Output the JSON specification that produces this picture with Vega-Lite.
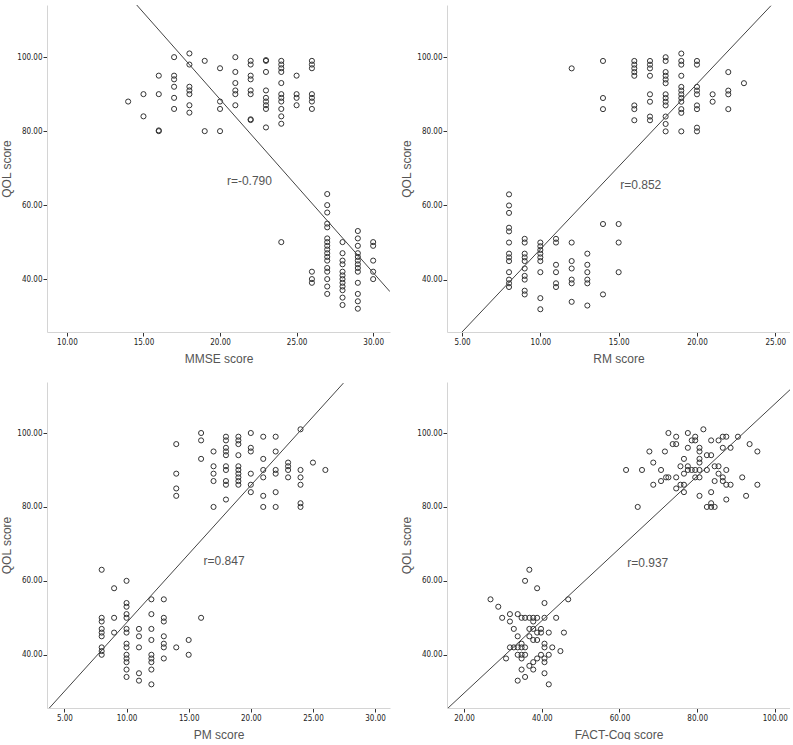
{
  "$schema": "https://vega.github.io/schema/vega-lite/v6.json",
  "padding": {"left": 0, "top": 5, "right": 0, "bottom": 0},
  "background": "white",
  "config": {
    "view": {"stroke": null},
    "axis": {
      "grid": false,
      "domainColor": "#d4d4d4",
      "domainWidth": 1,
      "tickColor": "#333333",
      "tickSize": 4,
      "labelFont": "DejaVu Sans Condensed, Liberation Sans, sans-serif",
      "labelFontSize": 8,
      "labelColor": "#222222",
      "labelPadding": 1,
      "titleFont": "Liberation Sans",
      "titleFontSize": 12,
      "titleFontWeight": "normal",
      "titleColor": "#555555",
      "titlePadding": 3,
      "format": ".2f"
    },
    "axisX": {"labelPadding": 2, "titlePadding": 7}
  },
  "datasets": {
    "pts": [
      {"p":"MMSE","x":14,"y":88},
      {"p":"MMSE","x":15,"y":90},{"p":"MMSE","x":15,"y":84},
      {"p":"MMSE","x":16,"y":95},{"p":"MMSE","x":16,"y":90},{"p":"MMSE","x":16,"y":80},{"p":"MMSE","x":16,"y":80.2},
      {"p":"MMSE","x":17,"y":100},{"p":"MMSE","x":17,"y":95},{"p":"MMSE","x":17,"y":94},{"p":"MMSE","x":17,"y":92},{"p":"MMSE","x":17,"y":89},{"p":"MMSE","x":17,"y":86},
      {"p":"MMSE","x":18,"y":101},{"p":"MMSE","x":18,"y":98},{"p":"MMSE","x":18,"y":92},{"p":"MMSE","x":18,"y":91},{"p":"MMSE","x":18,"y":90},{"p":"MMSE","x":18,"y":87},{"p":"MMSE","x":18,"y":85},
      {"p":"MMSE","x":19,"y":99},{"p":"MMSE","x":19,"y":80},
      {"p":"MMSE","x":20,"y":97},{"p":"MMSE","x":20,"y":88},{"p":"MMSE","x":20,"y":86},{"p":"MMSE","x":20,"y":80},
      {"p":"MMSE","x":21,"y":100},{"p":"MMSE","x":21,"y":96},{"p":"MMSE","x":21,"y":93},{"p":"MMSE","x":21,"y":91},{"p":"MMSE","x":21,"y":90},{"p":"MMSE","x":21,"y":87},
      {"p":"MMSE","x":22,"y":99},{"p":"MMSE","x":22,"y":98},{"p":"MMSE","x":22,"y":95},{"p":"MMSE","x":22,"y":94},{"p":"MMSE","x":22,"y":91},{"p":"MMSE","x":22,"y":90},{"p":"MMSE","x":22,"y":83},{"p":"MMSE","x":22,"y":83.2},
      {"p":"MMSE","x":23,"y":99},{"p":"MMSE","x":23,"y":99.2},{"p":"MMSE","x":23,"y":96},{"p":"MMSE","x":23,"y":91},{"p":"MMSE","x":23,"y":89},{"p":"MMSE","x":23,"y":88},{"p":"MMSE","x":23,"y":87},{"p":"MMSE","x":23,"y":86},{"p":"MMSE","x":23,"y":81},
      {"p":"MMSE","x":24,"y":99},{"p":"MMSE","x":24,"y":98},{"p":"MMSE","x":24,"y":97},{"p":"MMSE","x":24,"y":96},{"p":"MMSE","x":24,"y":93},{"p":"MMSE","x":24,"y":90},{"p":"MMSE","x":24,"y":89},{"p":"MMSE","x":24,"y":88},{"p":"MMSE","x":24,"y":86},{"p":"MMSE","x":24,"y":84},{"p":"MMSE","x":24,"y":82},{"p":"MMSE","x":24,"y":50},
      {"p":"MMSE","x":25,"y":95},{"p":"MMSE","x":25,"y":90},{"p":"MMSE","x":25,"y":89},{"p":"MMSE","x":25,"y":87},
      {"p":"MMSE","x":26,"y":99},{"p":"MMSE","x":26,"y":98},{"p":"MMSE","x":26,"y":97},{"p":"MMSE","x":26,"y":90},{"p":"MMSE","x":26,"y":89},{"p":"MMSE","x":26,"y":88},{"p":"MMSE","x":26,"y":86},{"p":"MMSE","x":26,"y":42},{"p":"MMSE","x":26,"y":40},{"p":"MMSE","x":26,"y":39},
      {"p":"MMSE","x":27,"y":63},{"p":"MMSE","x":27,"y":60},{"p":"MMSE","x":27,"y":58},{"p":"MMSE","x":27,"y":55},{"p":"MMSE","x":27,"y":54},{"p":"MMSE","x":27,"y":51},{"p":"MMSE","x":27,"y":50},{"p":"MMSE","x":27,"y":49},{"p":"MMSE","x":27,"y":48},{"p":"MMSE","x":27,"y":47},{"p":"MMSE","x":27,"y":46},{"p":"MMSE","x":27,"y":45},{"p":"MMSE","x":27,"y":43},{"p":"MMSE","x":27,"y":42},{"p":"MMSE","x":27,"y":40},{"p":"MMSE","x":27,"y":38},{"p":"MMSE","x":27,"y":36},
      {"p":"MMSE","x":28,"y":50},{"p":"MMSE","x":28,"y":47},{"p":"MMSE","x":28,"y":45},{"p":"MMSE","x":28,"y":44},{"p":"MMSE","x":28,"y":42},{"p":"MMSE","x":28,"y":41},{"p":"MMSE","x":28,"y":40},{"p":"MMSE","x":28,"y":39},{"p":"MMSE","x":28,"y":38},{"p":"MMSE","x":28,"y":37},{"p":"MMSE","x":28,"y":35},{"p":"MMSE","x":28,"y":33},
      {"p":"MMSE","x":29,"y":53},{"p":"MMSE","x":29,"y":51},{"p":"MMSE","x":29,"y":49},{"p":"MMSE","x":29,"y":47},{"p":"MMSE","x":29,"y":46},{"p":"MMSE","x":29,"y":45},{"p":"MMSE","x":29,"y":44},{"p":"MMSE","x":29,"y":43},{"p":"MMSE","x":29,"y":42},{"p":"MMSE","x":29,"y":39},{"p":"MMSE","x":29,"y":36},{"p":"MMSE","x":29,"y":34},{"p":"MMSE","x":29,"y":32},
      {"p":"MMSE","x":30,"y":50},{"p":"MMSE","x":30,"y":49},{"p":"MMSE","x":30,"y":45},{"p":"MMSE","x":30,"y":42},{"p":"MMSE","x":30,"y":40},

      {"p":"RM","x":8,"y":63},{"p":"RM","x":8,"y":60},{"p":"RM","x":8,"y":58},{"p":"RM","x":8,"y":54},{"p":"RM","x":8,"y":53},{"p":"RM","x":8,"y":50},{"p":"RM","x":8,"y":47},{"p":"RM","x":8,"y":46},{"p":"RM","x":8,"y":45},{"p":"RM","x":8,"y":42},{"p":"RM","x":8,"y":40},{"p":"RM","x":8,"y":39},{"p":"RM","x":8,"y":38},
      {"p":"RM","x":9,"y":51},{"p":"RM","x":9,"y":50},{"p":"RM","x":9,"y":47},{"p":"RM","x":9,"y":46},{"p":"RM","x":9,"y":45},{"p":"RM","x":9,"y":43},{"p":"RM","x":9,"y":41},{"p":"RM","x":9,"y":40},{"p":"RM","x":9,"y":37},{"p":"RM","x":9,"y":36},
      {"p":"RM","x":10,"y":50},{"p":"RM","x":10,"y":49},{"p":"RM","x":10,"y":48},{"p":"RM","x":10,"y":47},{"p":"RM","x":10,"y":46},{"p":"RM","x":10,"y":45},{"p":"RM","x":10,"y":42},{"p":"RM","x":10,"y":35},{"p":"RM","x":10,"y":32},
      {"p":"RM","x":11,"y":51},{"p":"RM","x":11,"y":50},{"p":"RM","x":11,"y":44},{"p":"RM","x":11,"y":42},{"p":"RM","x":11,"y":39},{"p":"RM","x":11,"y":38},
      {"p":"RM","x":12,"y":97},{"p":"RM","x":12,"y":50},{"p":"RM","x":12,"y":45},{"p":"RM","x":12,"y":43},{"p":"RM","x":12,"y":40},{"p":"RM","x":12,"y":39},{"p":"RM","x":12,"y":34},
      {"p":"RM","x":13,"y":47},{"p":"RM","x":13,"y":44},{"p":"RM","x":13,"y":42},{"p":"RM","x":13,"y":40},{"p":"RM","x":13,"y":39},{"p":"RM","x":13,"y":33},
      {"p":"RM","x":14,"y":99},{"p":"RM","x":14,"y":89},{"p":"RM","x":14,"y":86},{"p":"RM","x":14,"y":55},{"p":"RM","x":14,"y":36},
      {"p":"RM","x":15,"y":55},{"p":"RM","x":15,"y":50},{"p":"RM","x":15,"y":42},
      {"p":"RM","x":16,"y":99},{"p":"RM","x":16,"y":98},{"p":"RM","x":16,"y":97},{"p":"RM","x":16,"y":96},{"p":"RM","x":16,"y":95},{"p":"RM","x":16,"y":87},{"p":"RM","x":16,"y":86},{"p":"RM","x":16,"y":83},
      {"p":"RM","x":17,"y":99},{"p":"RM","x":17,"y":98},{"p":"RM","x":17,"y":97},{"p":"RM","x":17,"y":95},{"p":"RM","x":17,"y":90},{"p":"RM","x":17,"y":88},{"p":"RM","x":17,"y":84},{"p":"RM","x":17,"y":83},
      {"p":"RM","x":18,"y":100},{"p":"RM","x":18,"y":99},{"p":"RM","x":18,"y":96},{"p":"RM","x":18,"y":95},{"p":"RM","x":18,"y":94},{"p":"RM","x":18,"y":93},{"p":"RM","x":18,"y":90},{"p":"RM","x":18,"y":89},{"p":"RM","x":18,"y":88},{"p":"RM","x":18,"y":87},{"p":"RM","x":18,"y":84},{"p":"RM","x":18,"y":82},{"p":"RM","x":18,"y":80},
      {"p":"RM","x":19,"y":101},{"p":"RM","x":19,"y":99},{"p":"RM","x":19,"y":98},{"p":"RM","x":19,"y":95},{"p":"RM","x":19,"y":92},{"p":"RM","x":19,"y":91},{"p":"RM","x":19,"y":90},{"p":"RM","x":19,"y":89},{"p":"RM","x":19,"y":88},{"p":"RM","x":19,"y":86},{"p":"RM","x":19,"y":85},{"p":"RM","x":19,"y":80},
      {"p":"RM","x":20,"y":99},{"p":"RM","x":20,"y":98},{"p":"RM","x":20,"y":92},{"p":"RM","x":20,"y":91},{"p":"RM","x":20,"y":90},{"p":"RM","x":20,"y":87},{"p":"RM","x":20,"y":86},{"p":"RM","x":20,"y":81},{"p":"RM","x":20,"y":80},
      {"p":"RM","x":21,"y":90},{"p":"RM","x":21,"y":88},
      {"p":"RM","x":22,"y":96},{"p":"RM","x":22,"y":91},{"p":"RM","x":22,"y":90},{"p":"RM","x":22,"y":86},
      {"p":"RM","x":23,"y":93},

      {"p":"PM","x":8,"y":63},{"p":"PM","x":8,"y":50},{"p":"PM","x":8,"y":49},{"p":"PM","x":8,"y":47},{"p":"PM","x":8,"y":46},{"p":"PM","x":8,"y":45},{"p":"PM","x":8,"y":42},{"p":"PM","x":8,"y":41},{"p":"PM","x":8,"y":40},
      {"p":"PM","x":9,"y":58},{"p":"PM","x":9,"y":50},{"p":"PM","x":9,"y":46},
      {"p":"PM","x":10,"y":60},{"p":"PM","x":10,"y":54},{"p":"PM","x":10,"y":53},{"p":"PM","x":10,"y":51},{"p":"PM","x":10,"y":50},{"p":"PM","x":10,"y":47},{"p":"PM","x":10,"y":46},{"p":"PM","x":10,"y":43},{"p":"PM","x":10,"y":42},{"p":"PM","x":10,"y":40},{"p":"PM","x":10,"y":39},{"p":"PM","x":10,"y":38},{"p":"PM","x":10,"y":36},{"p":"PM","x":10,"y":34},
      {"p":"PM","x":11,"y":47},{"p":"PM","x":11,"y":45},{"p":"PM","x":11,"y":42},{"p":"PM","x":11,"y":35},{"p":"PM","x":11,"y":33},
      {"p":"PM","x":12,"y":55},{"p":"PM","x":12,"y":51},{"p":"PM","x":12,"y":47},{"p":"PM","x":12,"y":44},{"p":"PM","x":12,"y":40},{"p":"PM","x":12,"y":39},{"p":"PM","x":12,"y":38},{"p":"PM","x":12,"y":36},{"p":"PM","x":12,"y":32},
      {"p":"PM","x":13,"y":55},{"p":"PM","x":13,"y":50},{"p":"PM","x":13,"y":49},{"p":"PM","x":13,"y":45},{"p":"PM","x":13,"y":43},{"p":"PM","x":13,"y":42},{"p":"PM","x":13,"y":39},
      {"p":"PM","x":14,"y":97},{"p":"PM","x":14,"y":89},{"p":"PM","x":14,"y":85},{"p":"PM","x":14,"y":83},{"p":"PM","x":14,"y":42},
      {"p":"PM","x":15,"y":44},{"p":"PM","x":15,"y":40},
      {"p":"PM","x":16,"y":100},{"p":"PM","x":16,"y":98},{"p":"PM","x":16,"y":93},{"p":"PM","x":16,"y":50},
      {"p":"PM","x":17,"y":95},{"p":"PM","x":17,"y":91},{"p":"PM","x":17,"y":89},{"p":"PM","x":17,"y":87},{"p":"PM","x":17,"y":80},
      {"p":"PM","x":18,"y":99},{"p":"PM","x":18,"y":98},{"p":"PM","x":18,"y":96},{"p":"PM","x":18,"y":95},{"p":"PM","x":18,"y":94},{"p":"PM","x":18,"y":91},{"p":"PM","x":18,"y":90},{"p":"PM","x":18,"y":87},{"p":"PM","x":18,"y":86},{"p":"PM","x":18,"y":82},
      {"p":"PM","x":19,"y":99},{"p":"PM","x":19,"y":98},{"p":"PM","x":19,"y":97},{"p":"PM","x":19,"y":94},{"p":"PM","x":19,"y":91},{"p":"PM","x":19,"y":90},{"p":"PM","x":19,"y":89},{"p":"PM","x":19,"y":88},{"p":"PM","x":19,"y":87},{"p":"PM","x":19,"y":86},
      {"p":"PM","x":20,"y":100},{"p":"PM","x":20,"y":96},{"p":"PM","x":20,"y":95},{"p":"PM","x":20,"y":89},{"p":"PM","x":20,"y":86},{"p":"PM","x":20,"y":84},
      {"p":"PM","x":21,"y":99},{"p":"PM","x":21,"y":93},{"p":"PM","x":21,"y":90},{"p":"PM","x":21,"y":88},{"p":"PM","x":21,"y":83},{"p":"PM","x":21,"y":80},
      {"p":"PM","x":22,"y":99},{"p":"PM","x":22,"y":95},{"p":"PM","x":22,"y":90},{"p":"PM","x":22,"y":89},{"p":"PM","x":22,"y":84},{"p":"PM","x":22,"y":80},
      {"p":"PM","x":23,"y":92},{"p":"PM","x":23,"y":91},{"p":"PM","x":23,"y":90},{"p":"PM","x":23,"y":88},
      {"p":"PM","x":24,"y":101},{"p":"PM","x":24,"y":90},{"p":"PM","x":24,"y":88},{"p":"PM","x":24,"y":86},{"p":"PM","x":24,"y":81},{"p":"PM","x":24,"y":80},
      {"p":"PM","x":25,"y":92},
      {"p":"PM","x":26,"y":90},

      {"p":"FACT","x":61.7,"y":90},{"p":"FACT","x":65.8,"y":90},{"p":"FACT","x":64.7,"y":80},{"p":"FACT","x":67.7,"y":95},{"p":"FACT","x":68.7,"y":92},{"p":"FACT","x":68.7,"y":86},{"p":"FACT","x":70.7,"y":90},{"p":"FACT","x":70.7,"y":87},{"p":"FACT","x":71.7,"y":95},{"p":"FACT","x":72,"y":88},{"p":"FACT","x":72.6,"y":88},{"p":"FACT","x":72.6,"y":100},{"p":"FACT","x":73.7,"y":97},{"p":"FACT","x":74.6,"y":97},{"p":"FACT","x":74.6,"y":99},{"p":"FACT","x":74.6,"y":88},{"p":"FACT","x":74.6,"y":85},{"p":"FACT","x":75.7,"y":91},{"p":"FACT","x":75.7,"y":86},{"p":"FACT","x":76.6,"y":93},{"p":"FACT","x":76.6,"y":89},{"p":"FACT","x":76.6,"y":86},{"p":"FACT","x":76.6,"y":84},{"p":"FACT","x":77.6,"y":100},{"p":"FACT","x":77.6,"y":96},{"p":"FACT","x":77.6,"y":91},{"p":"FACT","x":77.6,"y":90},{"p":"FACT","x":78.6,"y":98},{"p":"FACT","x":78.6,"y":90},{"p":"FACT","x":79.5,"y":99},{"p":"FACT","x":79.5,"y":98},{"p":"FACT","x":79.5,"y":90},{"p":"FACT","x":79.5,"y":88},{"p":"FACT","x":80.6,"y":96},{"p":"FACT","x":80.6,"y":95},{"p":"FACT","x":80.6,"y":93},{"p":"FACT","x":80.6,"y":92},{"p":"FACT","x":80.6,"y":90},{"p":"FACT","x":80.6,"y":88},{"p":"FACT","x":80.6,"y":83},{"p":"FACT","x":81.6,"y":101},{"p":"FACT","x":82.5,"y":94},{"p":"FACT","x":82.5,"y":90},{"p":"FACT","x":82.5,"y":80},{"p":"FACT","x":83.6,"y":98},{"p":"FACT","x":83.6,"y":94},{"p":"FACT","x":83.6,"y":84},{"p":"FACT","x":83.6,"y":81},{"p":"FACT","x":83.6,"y":80},{"p":"FACT","x":84.5,"y":91},{"p":"FACT","x":84.5,"y":87},{"p":"FACT","x":84.5,"y":80},{"p":"FACT","x":85.5,"y":98},{"p":"FACT","x":85.5,"y":91},{"p":"FACT","x":85.5,"y":89},{"p":"FACT","x":86.6,"y":99},{"p":"FACT","x":86.6,"y":96},{"p":"FACT","x":86.6,"y":88},{"p":"FACT","x":86.6,"y":87},{"p":"FACT","x":87.5,"y":99},{"p":"FACT","x":87.5,"y":90},{"p":"FACT","x":87.5,"y":86},{"p":"FACT","x":87.5,"y":82},{"p":"FACT","x":88.6,"y":96},{"p":"FACT","x":88.6,"y":86},{"p":"FACT","x":90.5,"y":99},{"p":"FACT","x":91.6,"y":88},{"p":"FACT","x":92.6,"y":83},{"p":"FACT","x":93.5,"y":97},{"p":"FACT","x":95.5,"y":95},{"p":"FACT","x":95.5,"y":86},
      {"p":"FACT","x":26.8,"y":55},{"p":"FACT","x":28.8,"y":53},{"p":"FACT","x":29.8,"y":50},{"p":"FACT","x":30.8,"y":39},{"p":"FACT","x":31.8,"y":51},{"p":"FACT","x":31.8,"y":49},{"p":"FACT","x":31.8,"y":42},{"p":"FACT","x":32.8,"y":47},{"p":"FACT","x":32.8,"y":42},{"p":"FACT","x":33.8,"y":51},{"p":"FACT","x":33.8,"y":45},{"p":"FACT","x":33.8,"y":42},{"p":"FACT","x":33.8,"y":33},{"p":"FACT","x":33.8,"y":40},{"p":"FACT","x":34.8,"y":50},{"p":"FACT","x":34.8,"y":43},{"p":"FACT","x":34.8,"y":42},{"p":"FACT","x":34.8,"y":40},{"p":"FACT","x":34.8,"y":39},{"p":"FACT","x":34.8,"y":36},{"p":"FACT","x":35.7,"y":50},{"p":"FACT","x":35.7,"y":42},{"p":"FACT","x":35.7,"y":40},{"p":"FACT","x":35.7,"y":34},{"p":"FACT","x":35.7,"y":60},{"p":"FACT","x":36.8,"y":63},{"p":"FACT","x":36.8,"y":50},{"p":"FACT","x":36.8,"y":47},{"p":"FACT","x":36.8,"y":45},{"p":"FACT","x":36.8,"y":37},{"p":"FACT","x":37.8,"y":50},{"p":"FACT","x":37.8,"y":49},{"p":"FACT","x":37.8,"y":47},{"p":"FACT","x":37.8,"y":44},{"p":"FACT","x":37.8,"y":38},{"p":"FACT","x":37.8,"y":36},{"p":"FACT","x":38.8,"y":58},{"p":"FACT","x":38.8,"y":50},{"p":"FACT","x":38.8,"y":46},{"p":"FACT","x":38.8,"y":44},{"p":"FACT","x":38.8,"y":39},{"p":"FACT","x":39.8,"y":47},{"p":"FACT","x":39.8,"y":46},{"p":"FACT","x":39.8,"y":40},{"p":"FACT","x":40.7,"y":54},{"p":"FACT","x":40.7,"y":50},{"p":"FACT","x":40.7,"y":43},{"p":"FACT","x":40.7,"y":42},{"p":"FACT","x":40.7,"y":39},{"p":"FACT","x":40.7,"y":38},{"p":"FACT","x":40.7,"y":35},{"p":"FACT","x":41.8,"y":46},{"p":"FACT","x":41.8,"y":40},{"p":"FACT","x":41.8,"y":32},{"p":"FACT","x":42.7,"y":42},{"p":"FACT","x":43.7,"y":50},{"p":"FACT","x":44.8,"y":41},{"p":"FACT","x":45.7,"y":46},{"p":"FACT","x":46.8,"y":55}
    ],
    "fit": [
      {"p":"MMSE","x":14.56,"y":114.1},{"p":"MMSE","x":31.1,"y":36.6},
      {"p":"RM","x":5.0,"y":25.86},{"p":"RM","x":24.72,"y":113.9},
      {"p":"PM","x":3.79,"y":25.6},{"p":"PM","x":27.45,"y":113.5},
      {"p":"FACT","x":15.87,"y":25.6},{"p":"FACT","x":103.9,"y":111.7}
    ],
    "lab": [
      {"p":"MMSE","x":20.45,"y":66.6,"t":"r=-0.790"},
      {"p":"RM","x":15.1,"y":65.5,"t":"r=0.852"},
      {"p":"PM","x":16.2,"y":65.5,"t":"r=0.847"},
      {"p":"FACT","x":62.0,"y":64.7,"t":"r=0.937"}
    ]
  },
  "spacing": {"row": 50, "column": 57},
  "columns": 2,
  "bounds": "flush",
  "concat": [
    {
      "width": 343, "height": 327,
      "layer": [
        {"data": {"name": "pts"}, "transform": [{"filter": "datum.p === 'MMSE'"}],
         "mark": {"type": "point", "shape": "circle", "filled": false, "stroke": "#333333", "strokeWidth": 1, "size": 26, "opacity": 1},
         "encoding": {
           "x": {"field": "x", "type": "quantitative", "title": "MMSE score", "scale": {"domain": [8.7, 31.1], "nice": false, "zero": false}, "axis": {"values": [10, 15, 20, 25, 30]}},
           "y": {"field": "y", "type": "quantitative", "title": "QOL score", "scale": {"domain": [25.7, 114.1], "nice": false, "zero": false}, "axis": {"values": [40, 60, 80, 100]}}
         }},
        {"data": {"name": "fit"}, "transform": [{"filter": "datum.p === 'MMSE'"}],
         "mark": {"type": "line", "color": "#444444", "strokeWidth": 1, "clip": true},
         "encoding": {"x": {"field": "x", "type": "quantitative"}, "y": {"field": "y", "type": "quantitative"}}},
        {"data": {"name": "lab"}, "transform": [{"filter": "datum.p === 'MMSE'"}],
         "mark": {"type": "text", "align": "left", "baseline": "middle", "font": "Liberation Sans", "fontSize": 12, "color": "#555555"},
         "encoding": {"x": {"field": "x", "type": "quantitative"}, "y": {"field": "y", "type": "quantitative"}, "text": {"field": "t"}}}
      ]
    },
    {
      "width": 343, "height": 327,
      "layer": [
        {"data": {"name": "pts"}, "transform": [{"filter": "datum.p === 'RM'"}],
         "mark": {"type": "point", "shape": "circle", "filled": false, "stroke": "#333333", "strokeWidth": 1, "size": 26, "opacity": 1},
         "encoding": {
           "x": {"field": "x", "type": "quantitative", "title": "RM score", "scale": {"domain": [4.04, 25.94], "nice": false, "zero": false}, "axis": {"values": [5, 10, 15, 20, 25]}},
           "y": {"field": "y", "type": "quantitative", "title": "QOL score", "scale": {"domain": [25.86, 114.1], "nice": false, "zero": false}, "axis": {"values": [40, 60, 80, 100]}}
         }},
        {"data": {"name": "fit"}, "transform": [{"filter": "datum.p === 'RM'"}],
         "mark": {"type": "line", "color": "#444444", "strokeWidth": 1, "clip": true},
         "encoding": {"x": {"field": "x", "type": "quantitative"}, "y": {"field": "y", "type": "quantitative"}}},
        {"data": {"name": "lab"}, "transform": [{"filter": "datum.p === 'RM'"}],
         "mark": {"type": "text", "align": "left", "baseline": "middle", "font": "Liberation Sans", "fontSize": 12, "color": "#555555"},
         "encoding": {"x": {"field": "x", "type": "quantitative"}, "y": {"field": "y", "type": "quantitative"}, "text": {"field": "t"}}}
      ]
    },
    {
      "width": 343, "height": 326,
      "layer": [
        {"data": {"name": "pts"}, "transform": [{"filter": "datum.p === 'PM'"}],
         "mark": {"type": "point", "shape": "circle", "filled": false, "stroke": "#333333", "strokeWidth": 1, "size": 26, "opacity": 1},
         "encoding": {
           "x": {"field": "x", "type": "quantitative", "title": "PM score", "scale": {"domain": [3.6, 31.2], "nice": false, "zero": false}, "axis": {"values": [5, 10, 15, 20, 25, 30]}},
           "y": {"field": "y", "type": "quantitative", "title": "QOL score", "scale": {"domain": [25.6, 113.8], "nice": false, "zero": false}, "axis": {"values": [40, 60, 80, 100]}}
         }},
        {"data": {"name": "fit"}, "transform": [{"filter": "datum.p === 'PM'"}],
         "mark": {"type": "line", "color": "#444444", "strokeWidth": 1, "clip": true},
         "encoding": {"x": {"field": "x", "type": "quantitative"}, "y": {"field": "y", "type": "quantitative"}}},
        {"data": {"name": "lab"}, "transform": [{"filter": "datum.p === 'PM'"}],
         "mark": {"type": "text", "align": "left", "baseline": "middle", "font": "Liberation Sans", "fontSize": 12, "color": "#555555"},
         "encoding": {"x": {"field": "x", "type": "quantitative"}, "y": {"field": "y", "type": "quantitative"}, "text": {"field": "t"}}}
      ]
    },
    {
      "width": 343, "height": 326,
      "layer": [
        {"data": {"name": "pts"}, "transform": [{"filter": "datum.p === 'FACT'"}],
         "mark": {"type": "point", "shape": "circle", "filled": false, "stroke": "#333333", "strokeWidth": 1, "size": 26, "opacity": 1},
         "encoding": {
           "x": {"field": "x", "type": "quantitative", "title": "FACT-Cog score", "scale": {"domain": [15.6, 103.9], "nice": false, "zero": false}, "axis": {"values": [20, 40, 60, 80, 100]}},
           "y": {"field": "y", "type": "quantitative", "title": "QOL score", "scale": {"domain": [25.6, 113.8], "nice": false, "zero": false}, "axis": {"values": [40, 60, 80, 100]}}
         }},
        {"data": {"name": "fit"}, "transform": [{"filter": "datum.p === 'FACT'"}],
         "mark": {"type": "line", "color": "#444444", "strokeWidth": 1, "clip": true},
         "encoding": {"x": {"field": "x", "type": "quantitative"}, "y": {"field": "y", "type": "quantitative"}}},
        {"data": {"name": "lab"}, "transform": [{"filter": "datum.p === 'FACT'"}],
         "mark": {"type": "text", "align": "left", "baseline": "middle", "font": "Liberation Sans", "fontSize": 12, "color": "#555555"},
         "encoding": {"x": {"field": "x", "type": "quantitative"}, "y": {"field": "y", "type": "quantitative"}, "text": {"field": "t"}}}
      ]
    }
  ]
}
